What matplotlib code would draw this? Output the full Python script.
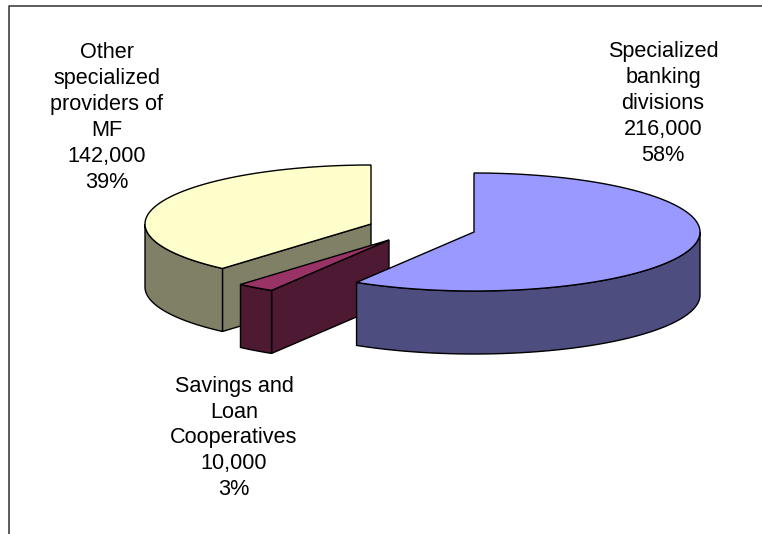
import numpy as np
import matplotlib
matplotlib.use('Agg')
import matplotlib.pyplot as plt
from matplotlib.patches import Polygon

plt.rcParams['font.family'] = ['Liberation Sans', 'DejaVu Sans']

# values, clockwise from 12 o'clock
labels = ['Specialized\nbanking\ndivisions', 'Savings and\nLoan\nCooperatives', 'Other\nspecialized\nproviders of\nMF']
values = [216000, 10000, 142000]
percents = ['58%', '3%', '39%']
top_colors = ['#9999FF', '#993366', '#FFFFCC']
side_colors = ['#4D4D80', '#4D1933', '#808066']

# each slice is pulled out, so it has its own apex (pixels)
centers = [(474, 232), (389, 240), (371, 224)]
text_pos = [(663, 103.5), (234, 438), (107, 117.5)]
rx, ry, depth = 226, 59, 63

W, H = 762, 534
fig = plt.figure(figsize=(W / 100, H / 100), dpi=100)
ax = fig.add_axes([0, 0, 1, 1])
ax.set_xlim(0, W)
ax.set_ylim(H, 0)
ax.axis('off')

# chart frame, only left and top show
ax.plot([8.5, 8.5, 762], [534, 5.5, 5.5], color='#303030', lw=1.1)

total = sum(values)
cuts = np.cumsum([0] + values) / total * 2 * np.pi


def rim(c, t0, t1, dy=0):
    t = np.linspace(t0, t1, 200)
    return np.column_stack([c[0] + rx * np.sin(t), c[1] - ry * np.cos(t) + dy])


# back to front
for i in [2, 1, 0]:
    c = centers[i]
    t0, t1 = cuts[i], cuts[i + 1]
    # outer wall, only the part facing us (90 to 270 deg)
    a, b = max(t0, np.pi / 2), min(t1, 3 * np.pi / 2)
    top = rim(c, a, b)
    bottom = rim(c, a, b, depth)
    # cut wall on the leading edge of the slice
    if i > 0:
        end = rim(c, t0, t0)[0]
        wall = [c, end, (end[0], end[1] + depth), (c[0], c[1] + depth)]
        ax.add_patch(Polygon(wall, fc=side_colors[i], ec='black', lw=1))
    ax.add_patch(Polygon(np.vstack([top, bottom[::-1]]), fc=side_colors[i], ec='black', lw=1))
    edge = rim(c, t0, t1)
    ax.add_patch(Polygon(np.vstack([[c], edge]), fc=top_colors[i], ec='black', lw=1))

for i in range(3):
    txt = f'{labels[i]}\n{values[i]:,}\n{percents[i]}'
    ax.text(text_pos[i][0], text_pos[i][1], txt, ha='center', va='center',
            fontsize=15.6, linespacing=1.3, color='black')

fig.savefig('out.png', dpi=100)
